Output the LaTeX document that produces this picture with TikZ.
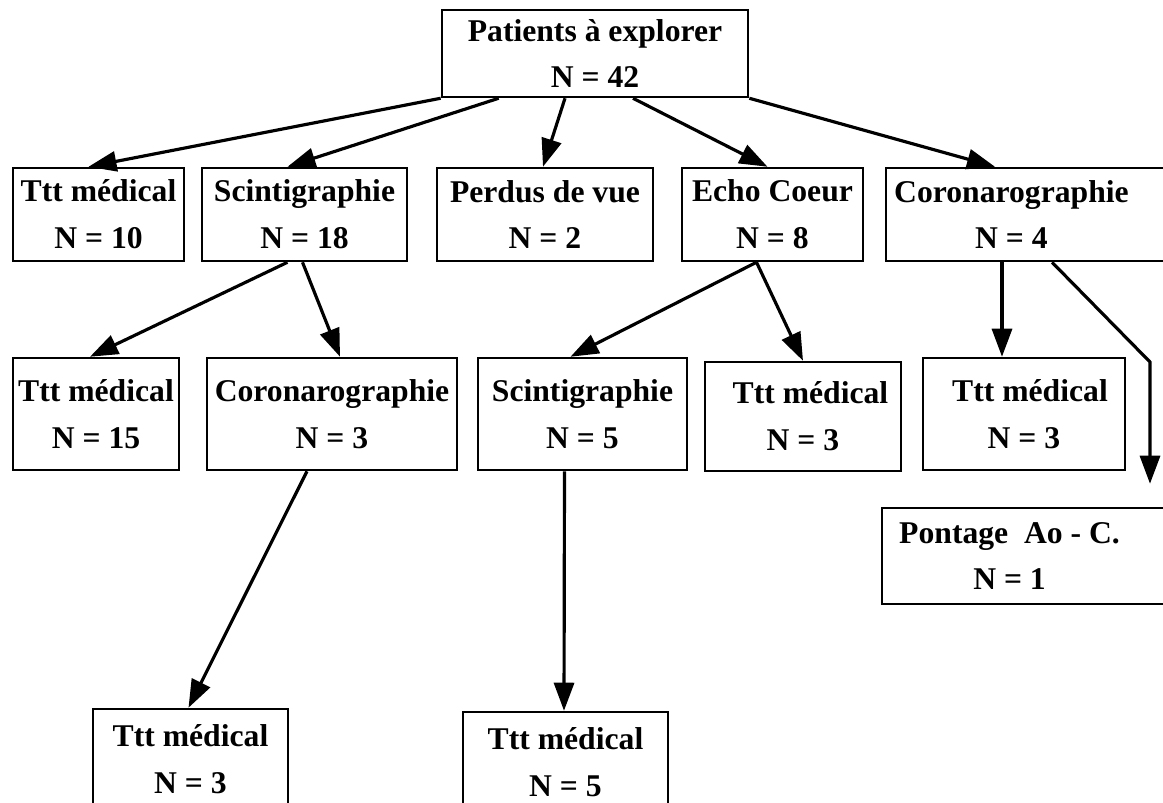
\documentclass[tikz,border=0pt]{standalone}
\usepackage{fontspec}
\setmainfont{Liberation Serif}
\usepackage{tikz}
\usetikzlibrary{arrows.meta, calc}

\begin{document}
\begin{tikzpicture}[x=0.01cm, y=-0.01cm,
    box/.style={draw, line width=0.7pt, align=center, inner sep=0pt,
                font=\bfseries\fontsize{9}{13.3}\selectfont},
    arr/.style={line width=0.9pt, -{Triangle[length=2.8mm, width=2.0mm]}}]
  \useasboundingbox (0,0) rectangle (1163,803);
  \clip (0,0) rectangle (1163,803);

  % top
  \node[box, minimum width=3.06cm, minimum height=0.87cm] (pat) at (595,53.5)
        {Patients à explorer\\N = 42};

  % second row
  \node[box, minimum width=1.71cm, minimum height=0.93cm] (ttA) at (98.5,214.5)
        {Ttt médical\\N = 10};
  \node[box, minimum width=2.05cm, minimum height=0.93cm] (sciA) at (304.5,214.5)
        {Scintigraphie\\N = 18};
  \node[box, minimum width=2.16cm, minimum height=0.93cm] (perdus) at (545,214.5)
        {Perdus de vue\\N = 2};
  \node[box, minimum width=1.81cm, minimum height=0.93cm] (echo) at (772.5,214.5)
        {Echo Coeur\\N = 8};
  \node[box, anchor=west, inner xsep=0.08cm, minimum height=0.93cm] (coroA) at (885,214.5)
        {Coronarographie\hspace*{0.5cm}\\N = 4\hspace*{0.5cm}};

  % third row
  \node[box, minimum width=1.66cm, minimum height=1.12cm] (ttB) at (96,414)
        {Ttt médical\\N = 15};
  \node[box, minimum width=2.50cm, minimum height=1.12cm] (coroB) at (332,414)
        {Coronarographie\\N = 3};
  \node[box, minimum width=2.09cm, minimum height=1.12cm] (sciB) at (582.5,414)
        {Scintigraphie\\N = 5};
  \node[box, minimum width=1.96cm, minimum height=1.09cm] (ttC) at (803,416.5)
        {\hspace*{0.15cm}Ttt médical\\N = 3};
  \node[box, minimum width=2.02cm, minimum height=1.12cm] (ttD) at (1024,414)
        {\hspace*{0.12cm}Ttt médical\\N = 3};
  \node[box, anchor=west, inner xsep=0.17cm, minimum height=0.96cm] (pont) at (881,556)
        {Pontage~ Ao - C.\hspace*{0.5cm}\\N = 1\hspace*{0.5cm}};

  % bottom row
  \node[box, minimum width=1.95cm, minimum height=1.0cm] (ttE) at (190.5,759)
        {Ttt médical\\N = 3};
  \node[box, minimum width=2.05cm, minimum height=1.0cm] (ttF) at (565.5,762)
        {Ttt médical\\N = 5};

  \coordinate (bend) at (1150,362);

  % arrows
  \draw[arr] (pat.south west) -- ($(ttA.north)+(-10,0)$);
  \draw[arr] ($(pat.south west)+(58,0)$) -- ($(sciA.north)+(-17,0)$);
  \draw[arr] ($(pat.south)+(-30,0)$) -- ($(perdus.north)+(-2,0)$);
  \draw[arr] ($(pat.south)+(38,0)$) -- ($(echo.north)+(-5,0)$);
  \draw[arr] (pat.south east) -- ($(coroA.north west)+(110,0)$);

  \draw[arr] ($(sciA.south)+(-17,0)$) -- ($(ttB.north)+(-6,0)$);
  \draw[arr] ($(sciA.south)+(-2,0)$) -- ($(coroB.north)+(8,0)$);
  \draw[arr] ($(echo.south)+(-16,0)$) -- ($(sciB.north)+(-12,0)$);
  \draw[arr] ($(echo.south)+(-16,0)$) -- (ttC.north);
  \draw[arr] ($(coroA.south west)+(117,0)$) -- ($(ttD.north)+(-22,0)$);
  \draw[arr, shorten >=0.23cm] ($(coroA.south west)+(167,0)$) -- (bend) -- (bend |- pont.north);

  \draw[arr] ($(coroB.south)+(-25,0)$) -- ($(ttE.north)+(-2,0)$);
  \draw[arr] ($(sciB.south)+(-18,0)$) -- ($(ttF.north)+(-1.5,0)$);
\end{tikzpicture}
\end{document}
